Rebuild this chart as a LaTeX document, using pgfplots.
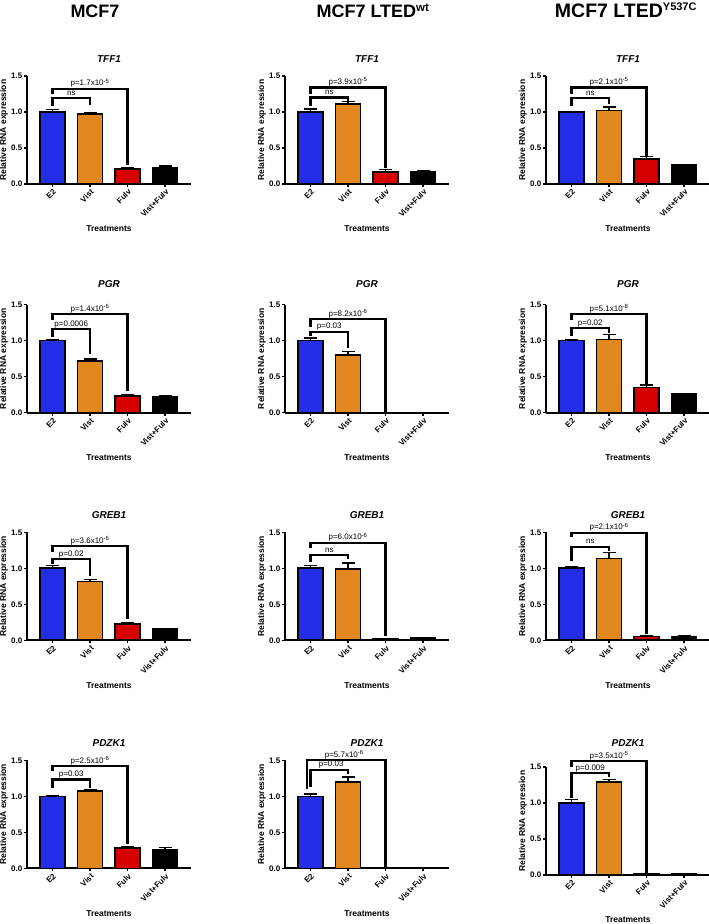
\documentclass[border=0pt]{standalone}
\usepackage{pgfplots}
\pgfplotsset{compat=1.18}
\usepackage{fontspec}
\setmainfont{Liberation Sans}
\definecolor{cE}{RGB}{36,46,232}
\definecolor{cV}{RGB}{226,134,30}
\definecolor{cF}{RGB}{214,0,0}
\definecolor{cB}{RGB}{0,0,0}
\newcommand{\tickfont}{\fontsize{8}{9}\selectfont\bfseries}
\newcommand{\labfont}{\fontsize{8.5}{10}\selectfont\bfseries}
\newcommand{\titfont}{\fontsize{10}{12}\selectfont\bfseries\itshape}
\newcommand{\pfont}{\fontsize{8}{9}\selectfont}
\pgfplotsset{
  panel/.style={
    scale only axis, width=164pt, height=108pt, anchor=south west,
    xmin=-0.68, xmax=3.69, ymin=0, ymax=1.5, clip=false,
    axis x line*=bottom, axis y line*=left,
    axis line style={line width=1.8pt, -},
    xtick={0,1,2,3}, xticklabels={E2,Vist,Fulv,Vist+Fulv},
    ytick={0,0.5,1,1.5}, yticklabels={0.0,0.5,1.0,1.5},
    tick align=outside, major tick length=3pt,
    tick style={line width=1.4pt, black},
    x tick label style={rotate=45, anchor=north east, font=\tickfont, inner sep=1pt},
    y tick label style={font=\tickfont, inner sep=1.5pt},
    xlabel={Treatments}, ylabel={Relative RNA expression},
    xlabel style={at={(axis description cs:0.5,-0.4167)}, anchor=center, font=\labfont},
    ylabel style={at={(axis description cs:-0.14,0.5)}, anchor=center, font=\labfont},
    title style={at={(axis description cs:0.5,1.101)}, anchor=center, font=\titfont},
  },
  barstyle/.style={ybar, bar width=25pt, bar shift=0pt, draw=black, line width=1.6pt,
    error bars/.cd, y dir=plus, y explicit,
    error bar style={line width=1.4pt, black},
    error mark options={rotate=90, mark size=6.5pt, line width=1.4pt, black}},
}
% four bars: value/error for E2, Vist, Fulv, Vist+Fulv
\newcommand{\fourbars}[8]{%
  \addplot[fill=cE, barstyle] coordinates {(0,#1) +- (0,#2)};
  \addplot[fill=cV, barstyle] coordinates {(1,#3) +- (0,#4)};
  \addplot[fill=cF, barstyle] coordinates {(2,#5) +- (0,#6)};
  \addplot[fill=cB, barstyle] coordinates {(3,#7) +- (0,#8)};
}
% bracket: x0, y-left-bottom, x1, y-right-bottom, y-top, x-text, text
\newcommand{\br}[7]{%
  \draw[black, line width=2.2pt, line cap=rect] (axis cs:#1,#2) |- (axis cs:#3,#5) -- (axis cs:#3,#4);
  \node[anchor=base, yshift=2.8pt, inner sep=0pt, font=\pfont] at (axis cs:#6,#5) {#7};
}
\newcommand{\pe}[2]{p=#1x10\textsuperscript{-#2}}
\begin{document}
\begin{tikzpicture}[x=1pt,y=1pt]
\useasboundingbox (0,0) rectangle (709,924);
% column headings
\node[anchor=base, font=\fontsize{18}{20}\selectfont\bfseries] at (95,906) {MCF7};
\node[anchor=base, font=\fontsize{18}{20}\selectfont\bfseries] at (373,906) {MCF7 LTED\textsuperscript{\fontsize{11.5}{12}\selectfont wt}};
\node[anchor=base, font=\fontsize{19.5}{21}\selectfont\bfseries] at (626,906) {MCF7 LTED\textsuperscript{\fontsize{11}{12}\selectfont Y537C}};

% ---------------- Row 1: TFF1
\begin{axis}[panel, at={(27pt,740pt)}, title={TFF1}]
\fourbars{1.00}{0.035}{0.97}{0.015}{0.21}{0.015}{0.23}{0.02}
\br{0}{1.105}{1}{1.11}{1.19}{0.5}{ns}
\br{0}{1.26}{2}{0.283}{1.324}{1}{\pe{1.7}{5}}
\end{axis}
\begin{axis}[panel, at={(285pt,740pt)}, title={TFF1}]
\fourbars{1.00}{0.04}{1.115}{0.032}{0.17}{0.028}{0.17}{0.012}
\br{0}{1.105}{1}{1.166}{1.2}{0.5}{ns}
\br{0}{1.26}{2}{0.237}{1.34}{1}{\pe{3.9}{5}}
\end{axis}
\begin{axis}[panel, at={(546pt,740pt)}, title={TFF1}]
\fourbars{1.00}{0.007}{1.02}{0.05}{0.345}{0.035}{0.26}{0.006}
\br{0}{1.105}{1}{1.12}{1.19}{0.5}{ns}
\br{0}{1.26}{2}{0.41}{1.34}{1}{\pe{2.1}{5}}
\end{axis}

% ---------------- Row 2: PGR
\begin{axis}[panel, at={(27pt,511.3pt)}, title={PGR}, title style={at={(axis description cs:0.5,1.138)}}]
\fourbars{1.00}{0.02}{0.72}{0.028}{0.23}{0.015}{0.22}{0.015}
\br{0}{1.066}{1}{0.835}{1.158}{0.5}{p=0.0006}
\br{0}{1.3}{2}{0.314}{1.366}{1}{\pe{1.4}{6}}
\end{axis}
\begin{axis}[panel, at={(285pt,511.3pt)}, title={PGR}, title style={at={(axis description cs:0.5,1.138)}}]
\fourbars{1.00}{0.04}{0.80}{0.054}{0.005}{0}{0.005}{0}
\br{0}{1.075}{1}{0.92}{1.126}{0.5}{p=0.03}
\br{0}{1.21}{2}{0.015}{1.297}{1}{\pe{8.2}{6}}
\end{axis}
\begin{axis}[panel, at={(546pt,511.3pt)}, title={PGR}, title style={at={(axis description cs:0.5,1.138)}}]
\fourbars{1.00}{0.01}{1.015}{0.07}{0.35}{0.033}{0.263}{0.005}
\br{0}{1.085}{1}{1.12}{1.177}{0.5}{p=0.02}
\br{0}{1.306}{2}{0.415}{1.366}{1}{\pe{5.1}{8}}
\end{axis}

% ---------------- Row 3: GREB1
\begin{axis}[panel, at={(27pt,283.7pt)}, title={GREB1}]
\fourbars{1.00}{0.037}{0.815}{0.028}{0.227}{0.013}{0.153}{0.014}
\br{0}{1.07}{1}{0.907}{1.13}{0.5}{p=0.02}
\br{0}{1.245}{2}{0.305}{1.31}{1}{\pe{3.6}{6}}
\end{axis}
\begin{axis}[panel, at={(285pt,283.7pt)}, title={GREB1}]
\fourbars{1.00}{0.037}{0.99}{0.084}{0.02}{0.008}{0.033}{0.009}
\br{0}{1.1}{1}{1.14}{1.185}{0.5}{ns}
\br{0}{1.3}{2}{0.074}{1.356}{1}{\pe{6.0}{6}}
\end{axis}
\begin{axis}[panel, at={(546pt,283.7pt)}, title={GREB1}]
\fourbars{1.00}{0.02}{1.134}{0.084}{0.05}{0.01}{0.05}{0.01}
\br{0}{1.115}{1}{1.255}{1.30}{0.5}{ns}
\br{0}{1.45}{2}{0.097}{1.495}{1}{\pe{2.1}{6}}
\end{axis}

% ---------------- Row 4: PDZK1
\begin{axis}[panel, at={(27pt,55.7pt)}, title={PDZK1}]
\fourbars{1.00}{0.01}{1.07}{0.028}{0.286}{0.019}{0.263}{0.023}
\br{0}{1.13}{1}{1.13}{1.232}{0.5}{p=0.03}
\br{0}{1.36}{2}{0.346}{1.417}{1}{\pe{2.5}{6}}
\end{axis}
\begin{axis}[panel, at={(285pt,55.7pt)}, title={PDZK1}]
\fourbars{1.00}{0.03}{1.20}{0.07}{0.005}{0}{0.01}{0.005}
\br{0}{1.14}{1}{1.32}{1.37}{0.55}{p=0.03}
\br{-0.1}{1.11}{2}{0.023}{1.50}{0.9}{\pe{5.7}{6}}
\end{axis}
\begin{axis}[panel, at={(546pt,49pt)}, title={PDZK1}, title style={at={(axis description cs:0.5,1.166)}}]
\fourbars{1.00}{0.05}{1.29}{0.04}{0.014}{0}{0.014}{0}
\br{0}{1.085}{1}{1.375}{1.417}{0.5}{p=0.009}
\br{0}{1.51}{2}{0.046}{1.583}{1}{\pe{3.5}{5}}
\end{axis}
\end{tikzpicture}
\end{document}
